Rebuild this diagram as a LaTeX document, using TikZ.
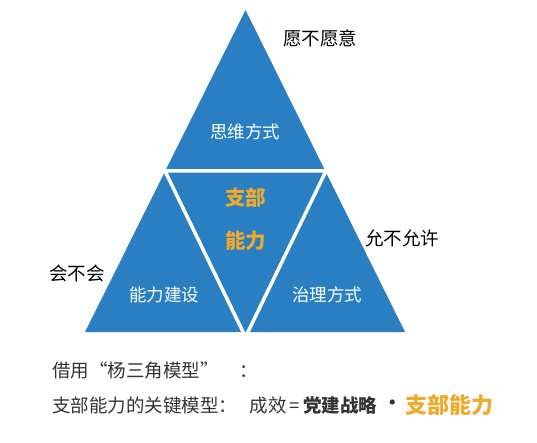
\documentclass[tikz,border=0pt]{standalone}
\usepackage{fontspec}
\setmainfont{Noto Sans CJK SC}
\usetikzlibrary{positioning}
\definecolor{triblue}{HTML}{2A7FC2}
\definecolor{keygold}{HTML}{EFA92B}
\definecolor{textgray}{HTML}{333333}
\tikzset{
  part/.style={text=white, font=\fontsize{17.5}{19}\selectfont},
  core/.style={text=keygold, font=\fontsize{20.5}{22}\selectfont\bfseries},
  remark/.style={text=black, font=\fontsize{18.5}{20}\selectfont},
  caption/.style={text=textgray, font=\fontsize{18.5}{20}\selectfont, anchor=west}
}
\begin{document}
\begin{tikzpicture}[x=1pt, y=-1pt, inner sep=0pt]
  \useasboundingbox (0,0) rectangle (537,443);
  % big triangle, then the upside-down one in the middle
  \fill[triblue] (245.5,10) -- (405,332) -- (85,332) -- cycle;
  \filldraw[fill=triblue, draw=white, line width=3.5pt] (165,171) -- (326,171) -- (245.5,337) -- cycle;

  \node[part] (mind) at (245,132) {思维方式};
  \node[part] (build) at (164,295) {能力建设};
  \node[part] (rule) at (327,295) {治理方式};
  \node[core] (branch) at (245.5,198) {支部};
  \node[core] (power) at (245.5,241) {能力};

  \node[remark] (willing) at (320,38) {愿不愿意};
  \node[remark] (allow) at (402,238) {允不允许};
  \node[remark] (able) at (77,273) {会不会};

  \node[caption] (borrow) at (52,370) {借用“杨三角模型”\hspace{1.1em}：};
  \node[caption] (model) at (52,405) {支部能力的关键模型：};
  \node[caption, right=12pt of model] (effect) {成效\,=\,\textbf{党建战略}};
  \node[caption, right=6pt of effect] (dot) {\textbf{•}};
  \node[caption, right=3pt of dot, text=keygold, font=\fontsize{22}{24}\selectfont\bfseries] (goal) {支部能力};
\end{tikzpicture}
\end{document}
